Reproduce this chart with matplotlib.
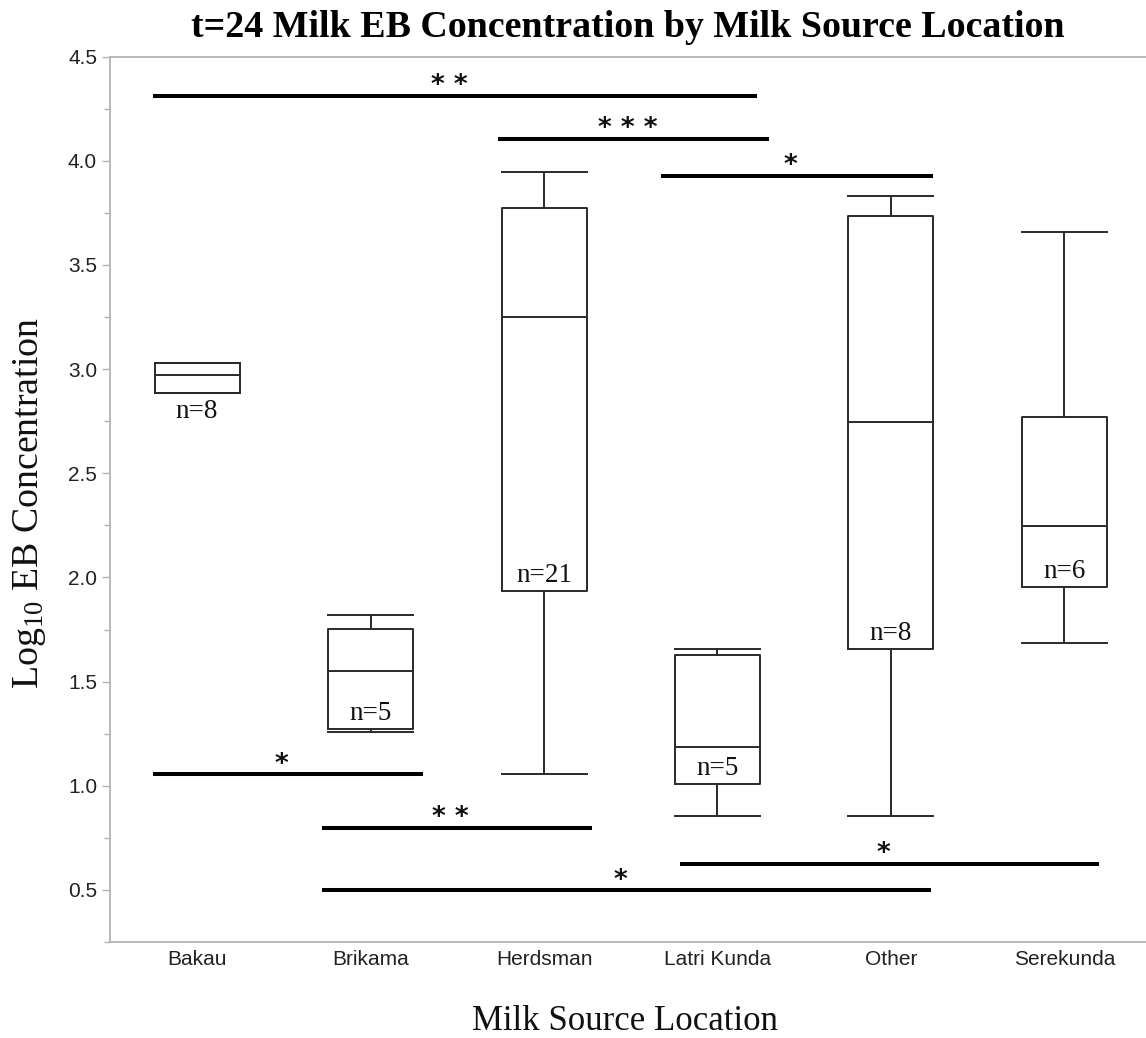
import matplotlib
matplotlib.use('Agg')
import matplotlib.pyplot as plt
from matplotlib.ticker import MultipleLocator, FixedLocator

plt.rcParams['mathtext.fontset'] = 'custom'
plt.rcParams['mathtext.rm'] = 'Liberation Serif'
plt.rcParams['mathtext.it'] = 'Liberation Serif:italic'
plt.rcParams['mathtext.bf'] = 'Liberation Serif:bold'

# ---- data ----
categories = ['Bakau', 'Brikama', 'Herdsman', 'Latri Kunda', 'Other', 'Serekunda']
whisker_low = [2.887, 1.260, 1.055, 0.855, 0.855, 1.683]
q1 = [2.887, 1.272, 1.934, 1.007, 1.655, 1.952]
median = [2.972, 1.551, 3.251, 1.185, 2.744, 2.246]
q3 = [3.031, 1.751, 3.773, 1.626, 3.733, 2.772]
whisker_high = [3.031, 1.818, 3.946, 1.655, 3.832, 3.660]
n_counts = [8, 5, 21, 5, 8, 6]

# significance bars: start / end (category units), level (y), marks
sig_start = [-0.254, 1.736, 2.674, -0.254, 0.720, 2.784, 0.720]
sig_end = [3.230, 3.296, 4.240, 1.304, 2.277, 5.197, 4.233]
sig_level = [4.311, 4.105, 3.928, 1.055, 0.796, 0.625, 0.498]
sig_marks = ['**', '***', '*', '*', '**', '*', '*']

title = 't=24 Milk EB Concentration by Milk Source Location'
xlabel = 'Milk Source Location'
ylabel = r'Log$_{10}$ EB Concentration'

# ---- figure ----
W, H = 1146, 1038
fig = plt.figure(figsize=(W / 100, H / 100), dpi=100)
ax = fig.add_axes([109.6 / W, 1 - 942 / H, 1 - 109.6 / W, (942 - 56.6) / H])

stats = []
for i, c in enumerate(categories):
    stats.append(dict(label=c, med=median[i], q1=q1[i], q3=q3[i],
                      whislo=whisker_low[i], whishi=whisker_high[i], fliers=[]))

line_col = '#2a2a2a'
lw = 1.4
ax.bxp(stats, positions=list(range(len(categories))), widths=0.49, capwidths=0.49,
       showfliers=False,
       boxprops=dict(color=line_col, linewidth=lw),
       whiskerprops=dict(color=line_col, linewidth=lw),
       capprops=dict(color=line_col, linewidth=lw),
       medianprops=dict(color=line_col, linewidth=lw))

# n labels
serif = 'Liberation Serif'
for i, n in enumerate(n_counts):
    if q3[i] - q1[i] < 0.3:
        ax.annotate(f'n={n}', xy=(i, q1[i]), xytext=(0, -18), textcoords='offset points',
                    ha='center', va='baseline', fontsize=19.5, family=serif, color='#111')
    else:
        ax.annotate(f'n={n}', xy=(i, q1[i]), xytext=(0, 6.5), textcoords='offset points',
                    ha='center', va='baseline', fontsize=19.5, family=serif, color='#111')

# significance bars
for x0, x1, y, m in zip(sig_start, sig_end, sig_level, sig_marks):
    ax.plot([x0, x1], [y, y], color='black', linewidth=2.9, solid_capstyle='butt')
    ax.annotate(' '.join(m), xy=((x0 + x1) / 2, y), xytext=(-4.5, 2), textcoords='offset points',
                ha='center', va='baseline', fontsize=19, fontweight='bold',
                family='DejaVu Sans', color='#111')

ax.set_xlim(-0.504, 5.47)
ax.set_ylim(0.25, 4.5)
ax.yaxis.set_major_locator(FixedLocator([0.5, 1.0, 1.5, 2.0, 2.5, 3.0, 3.5, 4.0, 4.5]))
ax.yaxis.set_minor_locator(MultipleLocator(0.25))
ax.set_yticklabels([f'{v:.1f}' for v in [0.5, 1.0, 1.5, 2.0, 2.5, 3.0, 3.5, 4.0, 4.5]])

spine_col = '#b3b3b3'
for s in ['left', 'top', 'bottom']:
    ax.spines[s].set_color(spine_col)
    ax.spines[s].set_linewidth(1.3)
ax.spines['right'].set_visible(False)

ax.tick_params(axis='y', which='major', length=6, width=1, color=spine_col, pad=3,
               labelsize=15, labelcolor='#222')
ax.tick_params(axis='y', which='minor', length=4, width=1, color=spine_col)
ax.tick_params(axis='x', which='both', length=0, pad=6, labelsize=15, labelcolor='#222')
for lab in ax.get_xticklabels() + ax.get_yticklabels():
    lab.set_family('Liberation Sans')

fig.text(628 / W, 1 - 37 / H, title, ha='center', va='baseline', fontsize=27.3,
         fontweight='bold', family=serif, color='black')
fig.text(625 / W, 1 - 1030 / H, xlabel, ha='center', va='baseline', fontsize=25,
         family=serif, color='#111')
fig.text(30 / W, 1 - 503 / H, ylabel, ha='center', va='center', rotation=90,
         fontsize=27.3, family=serif, color='#111')

fig.savefig('out.png', dpi=100, facecolor='white')
